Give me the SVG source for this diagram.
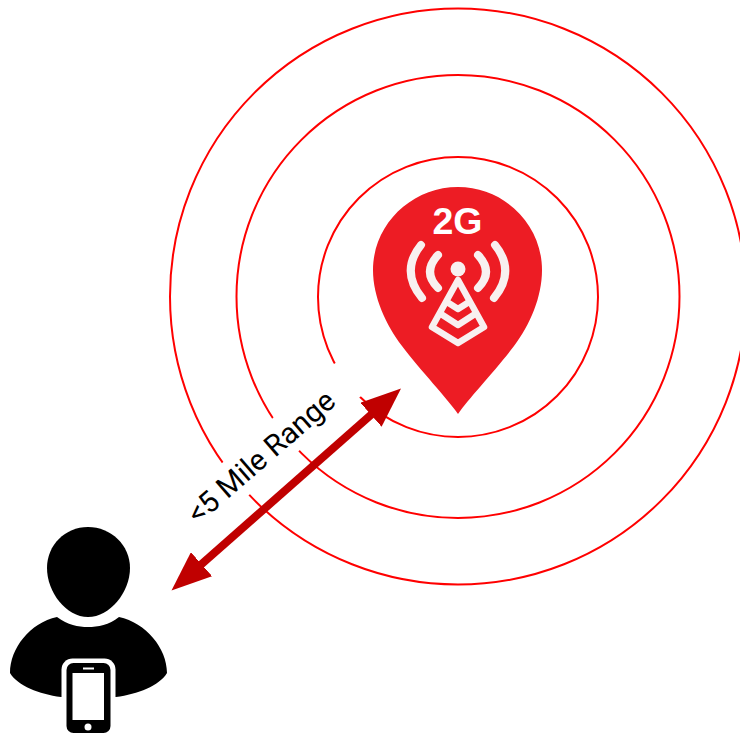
<svg xmlns="http://www.w3.org/2000/svg" width="740" height="734" viewBox="0 0 740 734">
<defs>
<style>
.ring{fill:none;stroke:#f00;stroke-width:2}
.w{fill:none;stroke:#f8f0f0;stroke-linecap:round;stroke-linejoin:round}
</style>
<marker id="ah" markerUnits="userSpaceOnUse" markerWidth="42" markerHeight="32" refX="2" refY="16" orient="auto-start-reverse"><path d="M0 0L40 16L0 32Z" fill="#c00000"/></marker>
</defs>
<rect width="740" height="734" fill="#fff"/>
<g id="rings">
<circle class="ring" cx="458" cy="297" r="140"/>
<circle class="ring" cx="458" cy="296.500" r="221.500"/>
<circle class="ring" cx="458" cy="296.500" r="288"/>
<path d="M200 482.600L334 364L385 330L385 375L360 397L249 495L226 515Z" fill="#fff"/>
</g>
<g id="tower-pin">
<path d="M458 414C447 398 421 371 402 346C386 325 373 297 373 270C373 224 412 187 458 187C504 187 542 224 542 270C542 297 530 325 514 346C495 371 469 398 458 414Z" fill="#ed1c24"/>
<text x="457.500" y="234" font-family="'Liberation Sans',Arial,sans-serif" font-size="37.500" font-weight="700" fill="#fff" text-anchor="middle">2G</text>
<g id="antenna">
<circle cx="458" cy="269" r="7.500" fill="#f8f0f0"/>
<path class="w" stroke-width="8" d="M438 255Q422 272 438 288M478 255Q494 272 478 288"/>
<path class="w" stroke-width="8" d="M421 245Q400 271 422 298M495 245Q516 271 494 298"/>
<path class="w" stroke-width="6.500" d="M458 280L484 327L458 343L432 327Z"/>
<path class="w" stroke-width="6.500" d="M447 302L458 309L469 302M441 314L458 325L475 314"/>
</g>
</g>
<g id="connectors">
<line x1="200" y1="565.500" x2="372.500" y2="413.500" stroke="#c00000" stroke-width="8" marker-start="url(#ah)" marker-end="url(#ah)"/>
</g>
<text id="range-label" x="0" y="0" transform="translate(198 525) rotate(-41)" font-family="Roboto,'Liberation Sans',sans-serif" font-size="29.500" fill="#000">&lt;5 Mile Range</text>
<g id="user">
<path d="M88 527C111 527 130 545 130 568C130 592 110 617 88 617C66 617 47 592 47 568C47 545 65 527 88 527Z" fill="#000"/>
<path d="M57 617C68 625 78 627 88 627C98 627 109 625 119 617C146 623 167 648 167 673C159 686 138 694 116 697L61 697C39 694 18 686 10 673C10 648 30 623 57 617Z" fill="#000"/>
<rect x="61.500" y="658.500" width="54" height="75.500" rx="11" fill="#fff"/>
<rect x="66.500" y="663" width="44" height="70" rx="7" fill="#000"/>
<rect x="72.500" y="673" width="31.500" height="47" fill="#fff"/>
<rect x="83" y="667.500" width="11" height="2" fill="#fff"/>
<circle cx="88" cy="727" r="3.500" fill="#fff"/>
</g>
</svg>
